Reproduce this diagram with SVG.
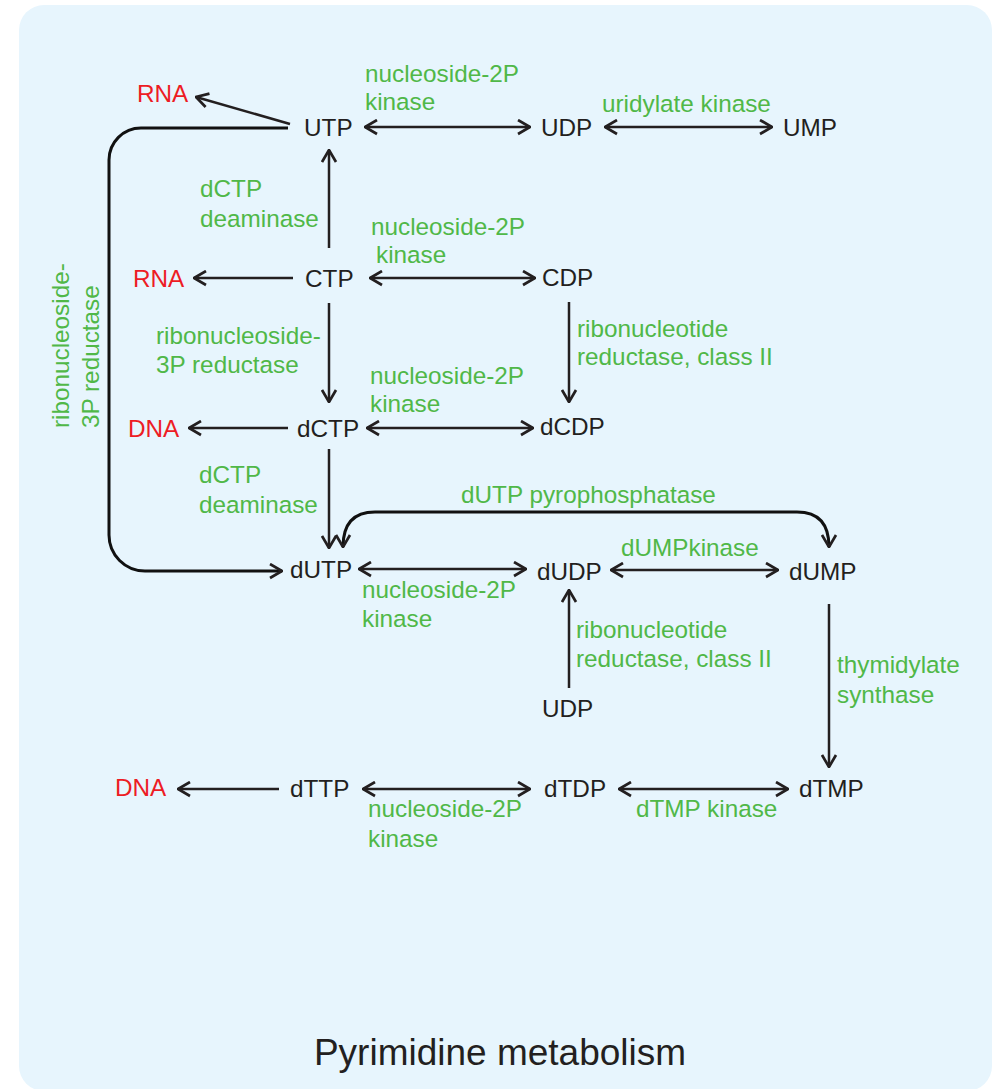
<svg xmlns="http://www.w3.org/2000/svg" width="1000" height="1089" viewBox="0 0 1000 1089">
<style>
text{font-family:"Liberation Sans",Arial,sans-serif;font-size:24.3px}
.n{fill:#231f20}
.r{fill:#ed1c24}
.g{fill:#50b848}
.t{font-size:37px;fill:#231f20}
.c{fill:none;stroke:#231f20;stroke-width:2.5}
.b{fill:none;stroke:#111;stroke-width:3}
</style>
<defs>
<marker id="h" viewBox="0 0 14 17" refX="13" refY="8.5" markerWidth="14" markerHeight="17" markerUnits="userSpaceOnUse" orient="auto-start-reverse">
<path d="M1,1.5 L13,8.5 L1,15.5" fill="none" stroke="#231f20" stroke-width="2.7"/>
</marker>
</defs>
<rect x="19" y="5" width="973" height="1086" rx="25" ry="25" fill="#e7f5fd"/>
<g id="connectors">
<path class="c" d="M290,124 L196,97" marker-end="url(#h)"/>
<path class="c" d="M329,248 L329,150" marker-end="url(#h)"/>
<path class="c" d="M293,278 L194,278" marker-end="url(#h)"/>
<path class="c" d="M365,127 L530,127" marker-start="url(#h)" marker-end="url(#h)"/>
<path class="c" d="M605,127 L772,127" marker-start="url(#h)" marker-end="url(#h)"/>
<path class="c" d="M370,278 L535,278" marker-start="url(#h)" marker-end="url(#h)"/>
<path class="c" d="M569,302 L569,402" marker-end="url(#h)"/>
<path class="c" d="M329,303 L329,402" marker-end="url(#h)"/>
<path class="c" d="M288,428 L189,428" marker-end="url(#h)"/>
<path class="c" d="M367,428 L533,428" marker-start="url(#h)" marker-end="url(#h)"/>
<path class="c" d="M329,449 L329,548" marker-end="url(#h)"/>
<path class="b" d="M288,128 L141,128 A32,32 0 0 0 109,160 L109,535 A36,36 0 0 0 145,571 L282,571" marker-end="url(#h)"/>
<path class="b" d="M343,547 C343,525 352,512 375,512 L797,512 C820,512 829,525 829,547" marker-start="url(#h)" marker-end="url(#h)"/>
<path class="c" d="M359,569 L526,569" marker-start="url(#h)" marker-end="url(#h)"/>
<path class="c" d="M611,570 L778,570" marker-start="url(#h)" marker-end="url(#h)"/>
<path class="c" d="M569,688 L569,590" marker-end="url(#h)"/>
<path class="c" d="M829,604 L829,767" marker-end="url(#h)"/>
<path class="c" d="M279,789 L178,789" marker-end="url(#h)"/>
<path class="c" d="M363,789 L530,789" marker-start="url(#h)" marker-end="url(#h)"/>
<path class="c" d="M619,789 L788,789" marker-start="url(#h)" marker-end="url(#h)"/>
</g>
<g id="UTP"><text class="n" x="304" y="136">UTP</text></g>
<g id="UDP"><text class="n" x="541" y="136">UDP</text></g>
<g id="UMP"><text class="n" x="783" y="136">UMP</text></g>
<g id="CTP"><text class="n" x="305" y="287">CTP</text></g>
<g id="CDP"><text class="n" x="542" y="286">CDP</text></g>
<g id="dCTP"><text class="n" x="297" y="437">dCTP</text></g>
<g id="dCDP"><text class="n" x="540" y="435">dCDP</text></g>
<g id="dUTP"><text class="n" x="290" y="578">dUTP</text></g>
<g id="dUDP"><text class="n" x="537" y="580">dUDP</text></g>
<g id="dUMP"><text class="n" x="789" y="580">dUMP</text></g>
<g id="UDP2"><text class="n" x="542" y="717">UDP</text></g>
<g id="dTTP"><text class="n" x="290" y="797">dTTP</text></g>
<g id="dTDP"><text class="n" x="544" y="797">dTDP</text></g>
<g id="dTMP"><text class="n" x="799" y="797">dTMP</text></g>
<g id="RNA1"><text class="r" x="137" y="102">RNA</text></g>
<g id="RNA2"><text class="r" x="133" y="287">RNA</text></g>
<g id="DNA1"><text class="r" x="128" y="437">DNA</text></g>
<g id="DNA2"><text class="r" x="115" y="796">DNA</text></g>
<g id="labels">
<text class="g" x="365" y="82">nucleoside-2P</text>
<text class="g" x="365" y="110">kinase</text>
<text class="g" x="602" y="112">uridylate kinase</text>
<text class="g" x="200" y="197">dCTP</text>
<text class="g" x="200" y="227">deaminase</text>
<text class="g" x="371" y="235">nucleoside-2P</text>
<text class="g" x="376" y="263">kinase</text>
<text class="g" x="577" y="337">ribonucleotide</text>
<text class="g" x="577" y="365">reductase, class II</text>
<text class="g" x="156" y="344">ribonucleoside-</text>
<text class="g" x="156" y="373">3P reductase</text>
<text class="g" x="370" y="384">nucleoside-2P</text>
<text class="g" x="370" y="412">kinase</text>
<text class="g" x="199" y="483">dCTP</text>
<text class="g" x="199" y="513">deaminase</text>
<text class="g" x="461" y="503">dUTP pyrophosphatase</text>
<text class="g" x="621" y="556">dUMPkinase</text>
<text class="g" x="362" y="598">nucleoside-2P</text>
<text class="g" x="362" y="627">kinase</text>
<text class="g" x="576" y="638">ribonucleotide</text>
<text class="g" x="576" y="667">reductase, class II</text>
<text class="g" x="837" y="673">thymidylate</text>
<text class="g" x="837" y="703">synthase</text>
<text class="g" x="368" y="817">nucleoside-2P</text>
<text class="g" x="368" y="847">kinase</text>
<text class="g" x="636" y="817">dTMP kinase</text>
<text class="g" transform="translate(69,428) rotate(-90)">ribonucleoside-</text>
<text class="g" transform="translate(99,428) rotate(-90)">3P reductase</text>
</g>
<text class="t" x="500" y="1065" text-anchor="middle">Pyrimidine metabolism</text>
</svg>
